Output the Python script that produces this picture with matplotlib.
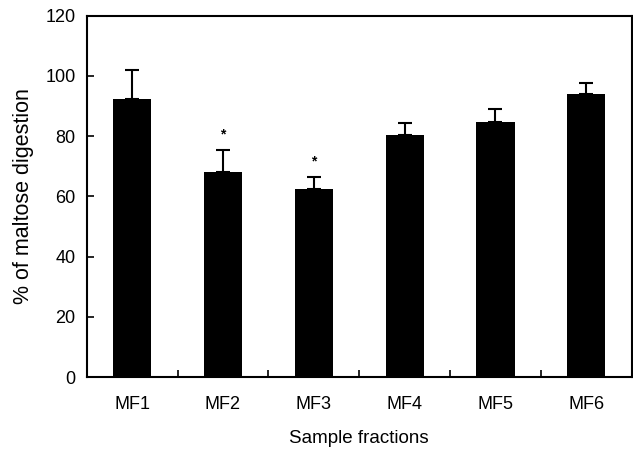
import numpy as np
import matplotlib.pyplot as plt

# Data
fractions = ['MF1', 'MF2', 'MF3', 'MF4', 'MF5', 'MF6']
digestion = [92.3, 68.0, 62.5, 80.3, 84.8, 94.1]
errors = [9.8, 7.5, 4.1, 4.2, 4.2, 3.7]
significant = [False, True, True, False, False, False]

plt.rcParams['font.family'] = ['Liberation Sans', 'DejaVu Sans']

fig = plt.figure(figsize=(6.33, 4.51), dpi=100)
ax = fig.add_axes([0.137, 0.164, 0.861, 0.801])

x = np.arange(len(fractions))
ax.bar(x, digestion, width=0.42, color='black', zorder=2)
ax.errorbar(x, digestion, yerr=[np.zeros(len(errors)), errors], fmt='none',
            ecolor='black', elinewidth=1.5, capsize=5, capthick=1.5, zorder=1)

for xi, v, e, s in zip(x, digestion, errors, significant):
    if s:
        ax.text(xi, v + e + 5, '*', ha='center', va='center', fontsize=10, fontweight='bold')

ax.set_xlim(-0.5, len(fractions) - 0.5)
ax.set_ylim(0, 120)
ax.set_yticks(np.arange(0, 121, 20))
ax.set_xticks(x)
ax.set_xticklabels(fractions)
ax.set_xticks(np.arange(0.5, len(fractions) - 0.5, 1), minor=True)
ax.tick_params(axis='x', which='major', length=0, pad=14, labelsize=13)
ax.tick_params(axis='x', which='minor', direction='in', length=5, width=1.2)
ax.tick_params(axis='y', direction='in', length=5, width=1.2, labelsize=13, pad=8)

for sp in ax.spines.values():
    sp.set_linewidth(1.5)

ax.set_xlabel('Sample fractions', fontsize=13.5, labelpad=12)
ax.set_ylabel('% of maltose digestion', fontsize=15.5, labelpad=8)

plt.savefig('out.png', dpi=100)
